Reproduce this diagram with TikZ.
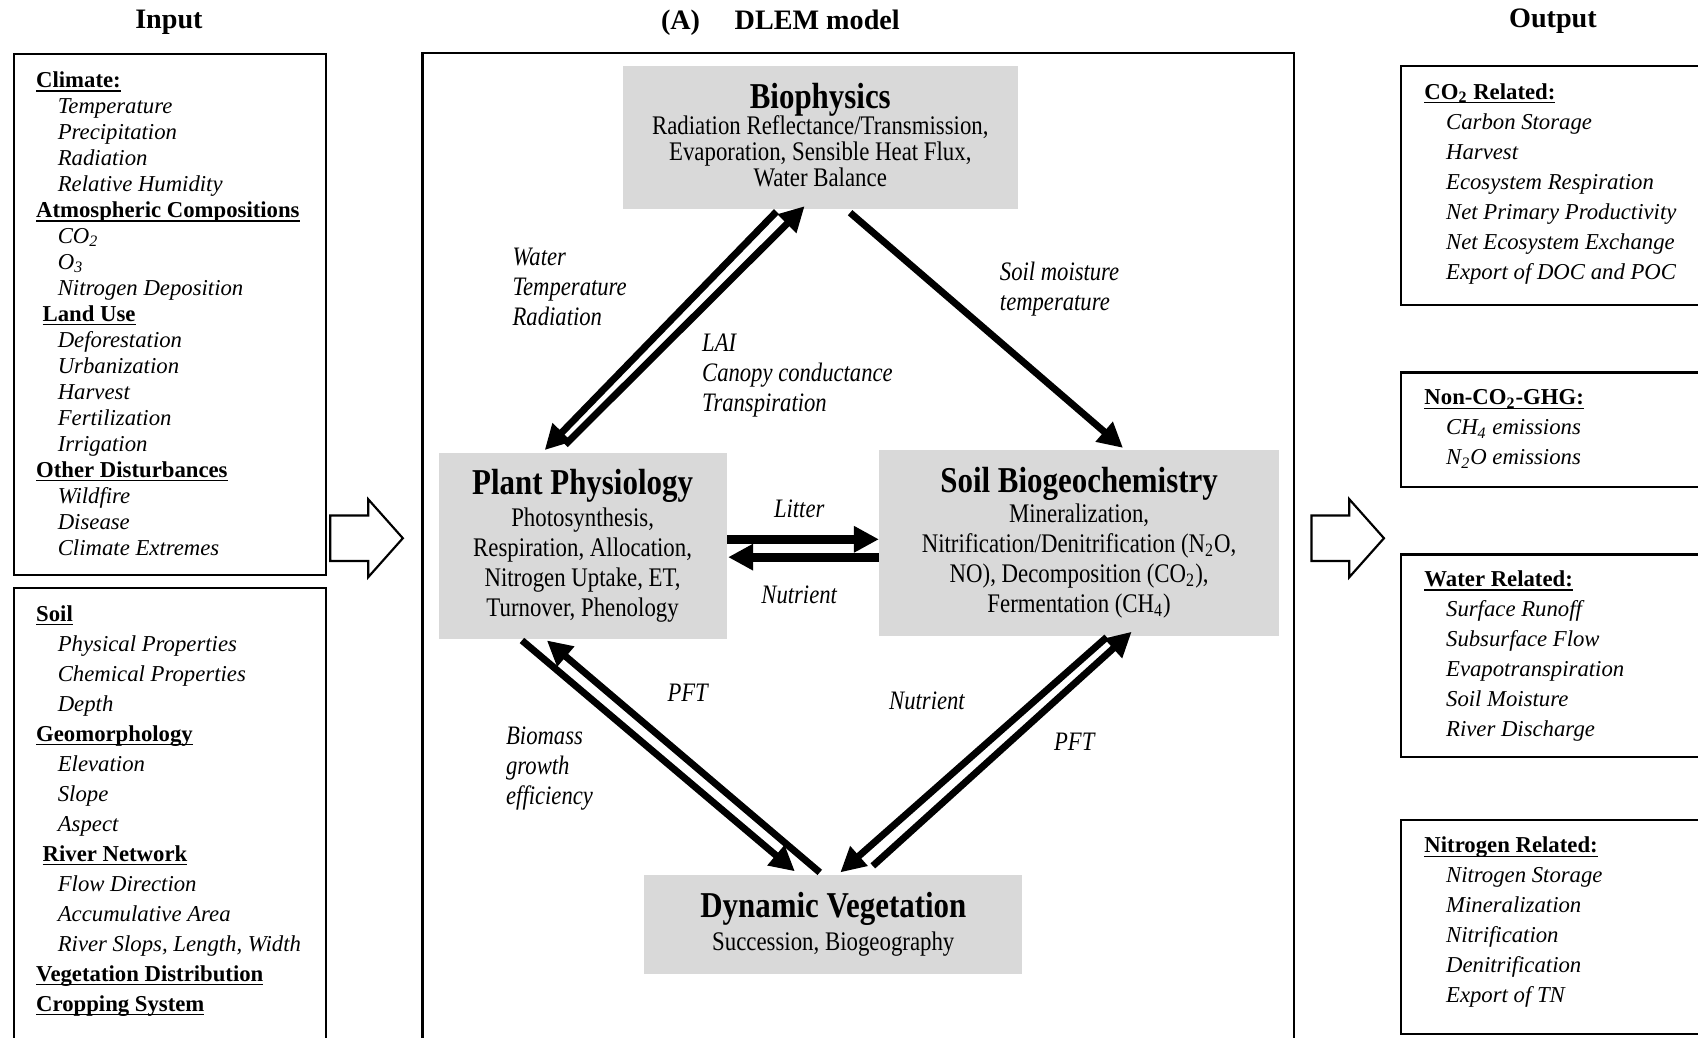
\documentclass[tikz,border=0pt]{standalone}
\usepackage{fontspec}
\setmainfont{Liberation Serif}
\newfontfamily\narrowf[FakeStretch=0.85]{Liberation Serif}
\usetikzlibrary{arrows.meta,calc,positioning}
\definecolor{boxgray}{RGB}{217,217,217}
\newcommand{\hd}[1]{\setbox0\hbox{\textbf{#1}}\rlap{\rule[-2pt]{\wd0}{0.7pt}}\box0}
\newcommand{\itm}[1]{\hspace*{10pt}\textit{#1}}
\newcommand{\ttl}[1]{{\bfseries\fontsize{16.8}{18}\selectfont #1}}
\tikzset{
  listtxt/.style={anchor=north west,align=left,inner sep=0pt,font=\fontsize{10.5}{12}\selectfont},
  procbox/.style={fill=boxgray,inner sep=0pt,align=center,font=\narrowf\fontsize{12.4}{13.85}\selectfont},
  lbl/.style={inner sep=0pt,align=left,font=\narrowf\itshape\fontsize{12.3}{13.75}\selectfont},
  flow/.style={line width=3.2pt,-{Triangle[length=11.5pt,width=11.5pt]}},
  hdr/.style={inner sep=0pt,font=\bfseries\fontsize{13}{15}\selectfont}
}

\begin{document}
\begin{tikzpicture}[x=0.5pt,y=-0.5pt,line join=miter]
\useasboundingbox (0,0) rectangle (1568,958);
\clip (0,0) rectangle (1568,958);
% --- headers
\node[hdr] (tin) at (156,21) {Input};
\node[hdr,anchor=west] (tmod) at (610,21) {(A)\hspace*{16pt}DLEM model};
\node[hdr] (tout) at (1434,20) {Output};

% --- input boxes
\draw[line width=1pt] (13,50) rectangle (301,531);
\draw[line width=1pt] (13,543) rectangle (301,975);
\node[listtxt] (clim) at (33,65.6) {\hd{Climate:}\\ \itm{Temperature}\\ \itm{Precipitation}\\ \itm{Radiation}\\ \itm{Relative Humidity}\\
  \hd{Atmospheric Compositions}\\ \itm{CO\textsubscript{2}}\\ \itm{O\textsubscript{3}}\\ \itm{Nitrogen Deposition}\\
  \hspace*{3pt}\hd{Land Use}\\ \itm{Deforestation}\\ \itm{Urbanization}\\ \itm{Harvest}\\ \itm{Fertilization}\\ \itm{Irrigation}\\
  \hd{Other Disturbances}\\ \itm{Wildfire}\\ \itm{Disease}\\ \itm{Climate Extremes}};
\node[listtxt,font=\fontsize{10.5}{13.85}\selectfont] (soilin) at (33,558.6) {\hd{Soil}\\ \itm{Physical Properties}\\ \itm{Chemical Properties}\\ \itm{Depth}\\
  \hd{Geomorphology}\\ \itm{Elevation}\\ \itm{Slope}\\ \itm{Aspect}\\
  \hspace*{3pt}\hd{River Network}\\ \itm{Flow Direction}\\ \itm{Accumulative Area}\\ \itm{River Slops, Length, Width}\\
  \hd{Vegetation Distribution}\\ \hd{Cropping System}};

% --- hollow arrows in / out
\foreach \ax in {305,1211}
  \draw[line width=1pt] (\ax,476) -- ++(35,0) -- ++(0,-15) -- ++(32,36) -- ++(-32,36) -- ++(0,-15) -- ++(-35,0) -- cycle;

% --- model frame and process boxes
\draw[line width=1.2pt] (390,49) rectangle (1195,975);
\node[procbox,minimum width=182.5pt,minimum height=66pt,font=\narrowf\fontsize{12.4}{12}\selectfont] (bio) at (757.5,127)
  {\ttl{Biophysics}\\[-1pt] Radiation Reflectance/Transmission,\\ Evaporation, Sensible Heat Flux,\\ Water Balance\rule[-2.5pt]{0pt}{0pt}};
\node[procbox,minimum width=133pt,minimum height=86pt] (pp) at (538,504)
  {\ttl{Plant Physiology}\\[0.6pt] Photosynthesis,\\ Respiration, Allocation,\\ Nitrogen Uptake, ET,\\ Turnover, Phenology};
\node[procbox,minimum width=184.5pt,minimum height=85.5pt] (soil) at (996.5,501.5)
  {\ttl{Soil Biogeochemistry}\\[0.1pt] Mineralization,\\ Nitrification/Denitrification (N\textsubscript{2}O,\\ NO), Decomposition (CO\textsubscript{2}),\\ Fermentation (CH\textsubscript{4})};
\node[procbox,minimum width=174.5pt,minimum height=45.5pt] (dyn) at (769.5,853.5)
  {\ttl{Dynamic Vegetation}\\[1.6pt] Succession, Biogeography};

% --- fluxes
\draw[flow] ($(bio.south)+(-40.5,2)$) -- ($(pp.north)+(-35,-2)$);
\draw[flow] ($(pp.north)+(-16,-7)$) -- ($(bio.south)+(-14.5,-3)$);
\draw[flow] ($(bio.south)+(27.5,3)$) -- ($(soil.north)+(40.5,-2)$);
\draw[flow,line width=4.2pt] ($(pp.east)+(0,-6)$) -- ($(soil.west)+(0,-3.5)$);
\draw[flow,line width=4.2pt] ($(soil.west)+(0,13)$) -- ($(pp.east)+(1,10.5)$);
\draw[flow] ($(pp.south)+(-56,1)$) -- ($(dyn.north)+(-35.5,-3)$);
\draw[flow] ($(dyn.north)+(-12.5,-2)$) -- ($(pp.south)+(-33,1)$);
\draw[flow] ($(soil.south)+(25.5,1)$) -- ($(dyn.north)+(6.5,-2)$);
\draw[flow] ($(dyn.north)+(36.5,-8)$) -- ($(soil.south)+(48.5,-4)$);

% --- flux labels
\node[lbl,anchor=north west] (lwtr) at (473,229) {Water\\ Temperature\\ Radiation};
\node[lbl,anchor=north west] (llai) at (648,308) {LAI\\ Canopy conductance\\ Transpiration};
\node[lbl,anchor=north west] (lsm) at (923,242) {Soil moisture\\ temperature};
\node[lbl] (llit) at (738,470) {Litter};
\node[lbl] (lnut) at (738,549) {Nutrient};
\node[lbl] (lpft) at (635,640) {PFT};
\node[lbl,anchor=north west] (lbge) at (467,671) {Biomass\\ growth\\ efficiency};
\node[lbl] (lnut2) at (856,647) {Nutrient};
\node[lbl] (lpft2) at (992,685) {PFT};

% --- output boxes
\draw[line width=1pt] (1294,61) rectangle (1580,282);
\draw[line width=1pt] (1294,344) rectangle (1580,450);
\draw[line width=1pt] (1294,512) rectangle (1580,699);
\draw[line width=1pt] (1294,757) rectangle (1580,955);
\node[listtxt,font=\fontsize{10.5}{13.85}\selectfont] (oco2) at (1315,76.6) {\hd{CO\textsubscript{2} Related:}\\ \itm{Carbon Storage}\\ \itm{Harvest}\\
  \itm{Ecosystem Respiration}\\ \itm{Net Primary Productivity}\\ \itm{Net Ecosystem Exchange}\\ \itm{Export of DOC and POC}};
\node[listtxt,font=\fontsize{10.5}{13.85}\selectfont] (oghg) at (1315,359.6) {\hd{Non-CO\textsubscript{2}-GHG:}\\ \itm{CH\textsubscript{4} emissions}\\ \itm{N\textsubscript{2}O emissions}};
\node[listtxt,font=\fontsize{10.5}{13.85}\selectfont] (owat) at (1315,526.6) {\hd{Water Related:}\\ \itm{Surface Runoff}\\ \itm{Subsurface Flow}\\
  \itm{Evapotranspiration}\\ \itm{Soil Moisture}\\ \itm{River Discharge}};
\node[listtxt,font=\fontsize{10.5}{13.85}\selectfont] (onit) at (1315,772.6) {\hd{Nitrogen Related:}\\ \itm{Nitrogen Storage}\\ \itm{Mineralization}\\
  \itm{Nitrification}\\ \itm{Denitrification}\\ \itm{Export of TN}};
\end{tikzpicture}
\end{document}
